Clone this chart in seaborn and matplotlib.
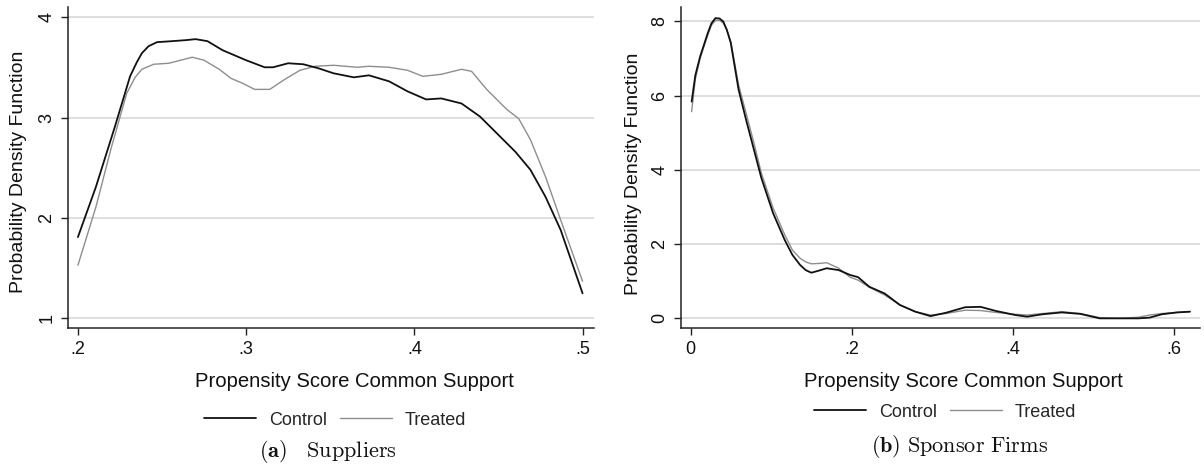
import matplotlib
matplotlib.use("Agg")
import matplotlib.pyplot as plt
import seaborn as sns
import numpy as np
import pandas as pd

# ---- data: panel (a) Suppliers ----
sup_ctrl_x = [0.200, 0.2107, 0.222, 0.231, 0.235, 0.238, 0.242, 0.247, 0.256, 0.264, 0.270, 0.277,
              0.286, 0.300, 0.311, 0.316, 0.325, 0.334, 0.343, 0.352, 0.364, 0.373, 0.385,
              0.396, 0.407, 0.416, 0.428, 0.439, 0.451, 0.460, 0.469, 0.478, 0.487, 0.500]
sup_ctrl_y = [1.81, 2.31, 2.91, 3.41, 3.55, 3.64, 3.71, 3.75, 3.76, 3.77, 3.78, 3.76,
              3.67, 3.57, 3.50, 3.50, 3.54, 3.53, 3.49, 3.44, 3.40, 3.42, 3.36,
              3.26, 3.18, 3.19, 3.14, 3.01, 2.81, 2.66, 2.48, 2.21, 1.88, 1.25]
sup_trt_x = [0.200, 0.2107, 0.220, 0.229, 0.234, 0.238, 0.245, 0.254, 0.261, 0.268, 0.275, 0.284,
             0.291, 0.298, 0.305, 0.314, 0.323, 0.332, 0.341, 0.352, 0.366, 0.373, 0.385,
             0.396, 0.405, 0.416, 0.428, 0.434, 0.443, 0.455, 0.462, 0.469, 0.478, 0.487, 0.500]
sup_trt_y = [1.53, 2.11, 2.71, 3.24, 3.40, 3.48, 3.53, 3.54, 3.57, 3.60, 3.57, 3.48,
             3.39, 3.34, 3.28, 3.28, 3.38, 3.47, 3.51, 3.52, 3.50, 3.51, 3.50,
             3.47, 3.41, 3.43, 3.48, 3.46, 3.28, 3.08, 2.99, 2.78, 2.41, 1.98, 1.37]

# ---- data: panel (b) Sponsor Firms ----
spo_x = [0.0014, 0.006, 0.012, 0.0215, 0.026, 0.031, 0.036, 0.0406, 0.045, 0.050, 0.0597,
         0.069, 0.0788, 0.088, 0.1026, 0.117, 0.1265, 0.136, 0.143, 0.150, 0.160, 0.169,
         0.184, 0.198, 0.208, 0.222, 0.241, 0.260, 0.279, 0.298, 0.317, 0.341, 0.360,
         0.379, 0.403, 0.418, 0.437, 0.461, 0.484, 0.508, 0.532, 0.556, 0.570, 0.585,
         0.604, 0.620]
spo_ctrl_y = [5.84, 6.55, 7.06, 7.69, 7.95, 8.09, 8.08, 8.00, 7.78, 7.42, 6.16,
              5.35, 4.54, 3.78, 2.83, 2.11, 1.71, 1.44, 1.30, 1.23, 1.29, 1.35,
              1.30, 1.17, 1.11, 0.85, 0.67, 0.36, 0.18, 0.06, 0.15, 0.30, 0.31,
              0.20, 0.09, 0.045, 0.11, 0.16, 0.12, 0.00, 0.00, 0.00, 0.02, 0.11,
              0.16, 0.18]
spo_trt_y = [5.57, 6.45, 7.01, 7.64, 7.90, 8.03, 8.03, 7.96, 7.78, 7.46, 6.29,
             5.53, 4.72, 3.91, 2.97, 2.25, 1.84, 1.62, 1.52, 1.47, 1.48, 1.50,
             1.35, 1.11, 1.03, 0.84, 0.63, 0.36, 0.18, 0.09, 0.13, 0.22, 0.21,
             0.16, 0.11, 0.09, 0.13, 0.18, 0.13, 0.02, 0.00, 0.03, 0.09, 0.13,
             0.16, 0.18]

left_xticks = [0.2, 0.3, 0.4, 0.5]
left_xticklabels = [".2", ".3", ".4", ".5"]
left_yticks = [1, 2, 3, 4]
right_xticks = [0.0, 0.2, 0.4, 0.6]
right_xticklabels = ["0", ".2", ".4", ".6"]
right_yticks = [0, 2, 4, 6, 8]

series_names = ["Control", "Treated"]
xlabel = "Propensity Score Common Support"
ylabel = "Probability Density Function"

sns.set_style("ticks")
plt.rcParams["font.family"] = ["Liberation Sans", "DejaVu Sans"]
plt.rcParams["mathtext.fontset"] = "cm"
plt.rcParams["lines.solid_joinstyle"] = "round"

W, H = 1204, 465
fig = plt.figure(figsize=(W / 100, H / 100), dpi=100)

def px_axes(x0, x1, y0, y1):
    return fig.add_axes([x0 / W, 1 - y1 / H, (x1 - x0) / W, (y1 - y0) / H])

axL = px_axes(68, 594, 7, 328)
axR = px_axes(681, 1200, 7, 328)

CTRL = "#111111"
TRT = "#8e8e8e"

def draw(ax, xc, yc, xt, yt):
    sns.lineplot(x=xt, y=yt, ax=ax, color=TRT, lw=1.0, label=series_names[1], zorder=3)
    sns.lineplot(x=xc, y=yc, ax=ax, color=CTRL, lw=1.3, label=series_names[0], zorder=4)
    ax.get_legend().remove()

draw(axL, sup_ctrl_x, sup_ctrl_y, sup_trt_x, sup_trt_y)
draw(axR, spo_x, spo_ctrl_y, spo_x, spo_trt_y)

def style(ax, xticks, xtl, yticks, xlim, ylim):
    ax.set_xlim(*xlim)
    ax.set_ylim(*ylim)
    ax.set_xticks(xticks)
    ax.set_xticklabels(xtl)
    ax.set_yticks(yticks)
    ax.set_yticklabels([str(v) for v in yticks], rotation=90, va="center")
    ax.yaxis.grid(True, color="#d8d8d8", lw=1.2)
    ax.xaxis.grid(False)
    ax.set_axisbelow(True)
    for s in ["top", "right"]:
        ax.spines[s].set_visible(False)
    for s in ["left", "bottom"]:
        ax.spines[s].set_color("#222222")
        ax.spines[s].set_linewidth(1.1)
    ax.tick_params(axis="both", direction="out", length=5, width=1.0,
                   color="#222222", labelsize=13, labelcolor="#111111", pad=4)
    ax.set_xlabel("")
    ax.set_ylabel("")

style(axL, left_xticks, left_xticklabels, left_yticks, (0.1941, 0.5068), (0.905, 4.10))
style(axR, right_xticks, right_xticklabels, right_yticks, (-0.0118, 0.6325), (-0.26, 8.39))

def ftext(x, y, s, **kw):
    fig.text(x / W, 1 - y / H, s, ha="center", va="center", **kw)

# axis titles
ftext(354, 381, xlabel, fontsize=14.6, color="#111111")
ftext(963, 381, xlabel, fontsize=14.6, color="#111111")
ftext(19, 172, ylabel, fontsize=14, rotation=90, color="#111111")
ftext(633, 174, ylabel, fontsize=14, rotation=90, color="#111111")

# legends
from matplotlib.lines import Line2D
handles = [Line2D([], [], color=CTRL, lw=1.3), Line2D([], [], color=TRT, lw=1.0)]
for cx, cy in [(335, 420), (945, 412)]:
    fig.legend(handles, series_names, loc="center", bbox_to_anchor=(cx / W, 1 - cy / H),
               ncol=2, frameon=False, fontsize=13, handlelength=2.9, handletextpad=0.7,
               columnspacing=0.7, borderpad=0, borderaxespad=0)

# captions
ftext(328, 451, r"$\mathbf{(a)}\ \ \ \mathrm{Suppliers}$", fontsize=16, color="#111111")
ftext(960, 446, r"$\mathbf{(b)}\ \mathrm{Sponsor\ Firms}$", fontsize=16, color="#111111")

fig.savefig("out.png", dpi=100)
